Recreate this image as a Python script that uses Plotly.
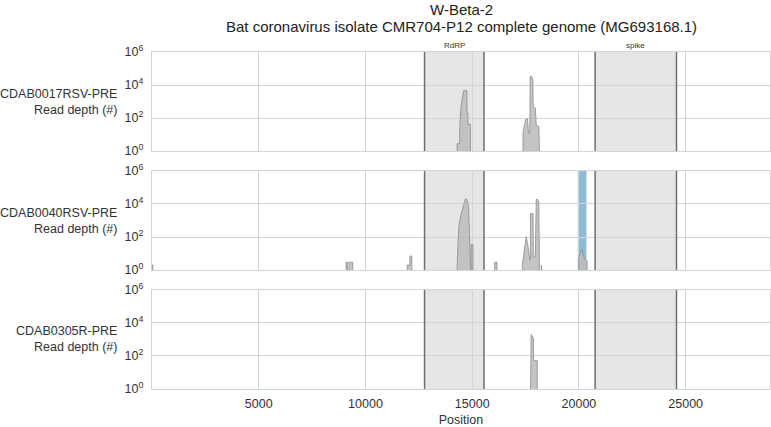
import plotly.graph_objects as go
from plotly.subplots import make_subplots

# ---------------- data ----------------
TITLE_LINES = ["W-Beta-2", "Bat coronavirus isolate CMR704-P12 complete genome (MG693168.1)"]
SAMPLES = ["CDAB0017RSV-PRE", "CDAB0040RSV-PRE", "CDAB0305R-PRE"]

# coverage profiles: positions and read depth, None separates blocks
S1_POS = [14290, 14290, 14410, 14420, 14470, 14540, 14590, 14750, 14760, 14800, 14805, 14916, 14916, None,
          17375, 17380, 17500, 17590, 17640, 17700, 17715, 17790, 17840, 17860, 17960, 18000, 18120, 18150]
S1_DEPTH = [1, 2.8, 2.8, 40, 400, 1600, 4600, 4600, 210, 200, 42, 42, 1, None,
            1, 13, 80, 90, 13, 13, 32000, 33000, 20000, 450, 400, 35, 32, 1]

S2_POS = [0, 0, 40, 40, None,
          9090, 9090, 9160, 9160, None,
          9230, 9230, 9400, 9400, None,
          11955, 11955, 12080, 12080, 12173, 12173, None,
          14290, 14290, 14337, 14384, 14463, 14542, 14617, 14683, 14757, 14823, 14851, 14884, 14916, 14916, None,
          14950, 14950, 15038, 15038, None,
          16052, 16052, 16160, 16160, None,
          17346, 17346, 17421, 17454, 17533, 17608, 17655, 17700, 17725, 17728, 17850, 17862, 17955, 17965,
          18000, 18060, 18120, 18150, None,
          18240, 18240, 18262, 18262, None,
          19991, 19991, 20103, 20150, 20178, 20257, 20337, 20384, 20384]
S2_DEPTH = [1, 2, 2, 1, None,
            1, 3, 3, 1, None,
            1, 3, 3, 1, None,
            1, 2, 2, 7, 7, 1, None,
            1, 1.3, 52, 520, 2000, 5000, 12600, 21000, 18000, 8000, 1260, 126, 2, 1, None,
            1, 36, 36, 1, None,
            1, 3, 3, 1, None,
            1, 2, 10, 26, 105, 32, 8, 4, 4, 2630, 2630, 6, 6, 10000,
            19000, 19000, 12600, 1, None,
            1, 2, 2, 1, None,
            1, 5, 17, 17, 10, 5, 3.5, 3.5, 1]

S3_POS = [17734, 17734, 17760, 17840, 17870, 17875, 17900, 18047, 18047]
S3_DEPTH = [1, 1900, 2000, 1400, 1120, 66, 52, 52, 1]

REGION_NAMES = ["RdRP", "spike"]
REGION_START = [12767, 20757]
REGION_END = [15551, 24570]

HIGHLIGHT_START = 19945   # sample 2 only
HIGHLIGHT_END = 20351

X_MAX = 28950
X_TICKS = [5000, 10000, 15000, 20000, 25000]
X_TICKTEXT = ["5000", "10000", "15000", "20000", "25000"]
Y_TICKVALS = [1, 100, 10000, 1000000]
Y_TICKTEXT = ["10<sup>0</sup>", "10<sup>2</sup>", "10<sup>4</sup>", "10<sup>6</sup>"]

# ---------------- figure ----------------
W, H = 771, 427
ML, MR, MT, MB = 152, 0, 52, 35
PH = H - MT - MB
fig = make_subplots(rows=3, cols=1, shared_xaxes=True, vertical_spacing=20 / PH)

FONT = "Liberation Sans, Arial, sans-serif"
GRID = "#d4d4d4"
TXT = "#333333"


def split_blocks(xs, ys):
    blocks, bx, by = [], [], []
    for x, y in zip(xs, ys):
        if x is None:
            if bx:
                blocks.append((bx, by))
            bx, by = [], []
        else:
            bx.append(x)
            by.append(y)
    if bx:
        blocks.append((bx, by))
    return blocks


profiles = [(S1_POS, S1_DEPTH), (S2_POS, S2_DEPTH), (S3_POS, S3_DEPTH)]
shapes = []
for r, (px, py) in enumerate(profiles, start=1):
    xr = "x" if r == 1 else f"x{r}"
    yr = "y" if r == 1 else f"y{r}"
    for s, e in zip(REGION_START, REGION_END):
        shapes.append(dict(type="rect", xref=xr, yref=f"{yr} domain", x0=s, x1=e, y0=0, y1=1,
                           fillcolor="#e6e6e6", line=dict(width=0), layer="below"))
        for xx in (s, e):
            shapes.append(dict(type="line", xref=xr, yref=f"{yr} domain", x0=xx, x1=xx, y0=0, y1=1,
                               line=dict(color="#6e6e6e", width=1.5), layer="above"))
    if r == 2:
        shapes.append(dict(type="rect", xref=xr, yref=f"{yr} domain", x0=HIGHLIGHT_START, x1=HIGHLIGHT_END,
                           y0=0, y1=1, fillcolor="rgba(31,119,180,0.5)", line=dict(width=0), layer="below"))
    for bx, by in split_blocks(px, py):
        fig.add_trace(go.Scatter(x=bx, y=by, mode="lines", fill="toself",
                                 fillcolor="rgba(190,190,190,0.9)",
                                 line=dict(color="#8c8c8c", width=0.8),
                                 showlegend=False, hoverinfo="skip"), row=r, col=1)

fig.update_layout(shapes=shapes)

for r in range(1, 4):
    fig.update_yaxes(type="log", range=[0, 6], tickvals=Y_TICKVALS, ticktext=Y_TICKTEXT,
                     showgrid=True, gridcolor=GRID, gridwidth=1,
                     showline=True, linecolor=GRID, linewidth=1.2, mirror=True,
                     ticks="", zeroline=False, ticklabelstandoff=5,
                     tickfont=dict(family=FONT, size=12.5, color=TXT),
                     row=r, col=1)
    fig.update_xaxes(range=[0, X_MAX], tickvals=X_TICKS, ticktext=X_TICKTEXT,
                     showgrid=True, gridcolor=GRID, gridwidth=1,
                     showline=True, linecolor=GRID, linewidth=1.2, mirror=True, ticks="",
                     zeroline=False, showticklabels=(r == 3), ticklabelstandoff=3,
                     tickfont=dict(family=FONT, size=12.5, color=TXT),
                     row=r, col=1)
fig.update_xaxes(title=dict(text="Position", font=dict(family=FONT, size=12.5, color=TXT),
                            standoff=7), row=3, col=1)


def py2paper(pyy):
    return (H - MB - pyy) / PH


annotations = []
centers = [102, 222, 342]
for name, cy in zip(SAMPLES, centers):
    annotations.append(dict(text=f"{name}<br>Read depth (#)", xref="paper", yref="paper",
                            x=(119 - ML) / (W - ML - MR), y=py2paper(cy),
                            xanchor="right", yanchor="middle", align="right", showarrow=False,
                            font=dict(family=FONT, size=12.5, color=TXT)))
for n, s, e in zip(REGION_NAMES, REGION_START, REGION_END):
    annotations.append(dict(text=n, xref="x", yref="paper", x=(s + e) / 2, y=1.0,
                            xanchor="center", yanchor="bottom", showarrow=False,
                            font=dict(family=FONT, size=8, color=TXT)))
for line, cy in zip(TITLE_LINES, [9.5, 26.5]):
    annotations.append(dict(text=line, xref="paper", yref="paper", x=0.5, y=py2paper(cy),
                            xanchor="center", yanchor="middle", showarrow=False,
                            font=dict(family=FONT, size=15, color="#222222")))
fig.update_layout(annotations=annotations)

fig.update_layout(
    width=W, height=H,
    margin=dict(l=ML, r=MR, t=MT, b=MB),
    paper_bgcolor="white", plot_bgcolor="white",
    font=dict(family=FONT),
    showlegend=False,
)

fig.write_html("out.html", config={"displayModeBar": False},
               post_script="document.body.style.margin='0';document.body.style.overflow='hidden';")
